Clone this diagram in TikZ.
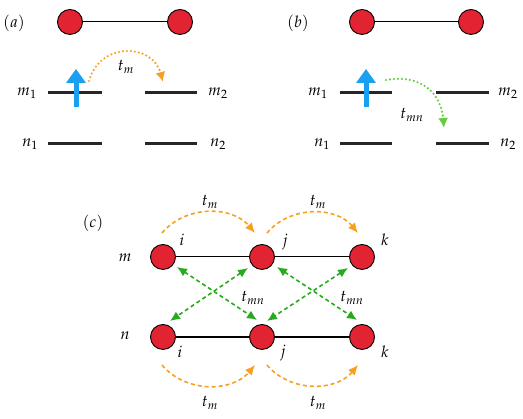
\documentclass[tikz,border=0pt]{standalone}
\usepackage{mathpazo}
\usetikzlibrary{arrows.meta}
\definecolor{sitered}{RGB}{226,35,50}
\definecolor{hoporange}{RGB}{248,160,30}
\definecolor{hopgreen}{RGB}{40,170,30}
\definecolor{hoplime}{RGB}{100,205,60}
\definecolor{spinblue}{RGB}{25,160,240}
\begin{document}
\begin{tikzpicture}[x=1pt, y=1pt,
  every node/.style={font=\fontsize{16}{19}\selectfont},
  site/.style={circle, draw=black, line width=0.9pt, fill=sitered, minimum size=25pt, inner sep=0pt},
  bond/.style={line width=1pt},
  level/.style={line width=3pt, black!85},
  spin/.style={spinblue, line width=5pt, -{Triangle[width=19pt,length=14pt]}},
  dothop/.style={line width=2.4pt, line cap=round, dash pattern=on 0pt off 4pt, -{Latex[length=10pt,width=10pt]}},
  dashhop/.style={line width=1.6pt, dash pattern=on 4pt off 3pt, -{Latex[length=10pt,width=9pt]}},
  dashboth/.style={dashhop, {Latex[length=10pt,width=9pt]}-{Latex[length=10pt,width=9pt]}}]
\useasboundingbox (0,0) rectangle (523,419);
% (a)
\node (la) at (14,396) {$(a)$};
\node[site] (a1) at (70,397) {};
\node[site] (a2) at (180,397) {};
\draw[bond] (a1) -- (a2);
\draw[level] (48,326) -- (102,326);
\draw[level] (145,326) -- (197,326);
\draw[level] (48,275) -- (102,275);
\draw[level] (145,275) -- (197,275);
\node at (27,326) {$m_1$};
\node at (218,326) {$m_2$};
\node at (30,275) {$n_1$};
\node at (218,275) {$n_2$};
\draw[spin] (76,312) -- (76,350);
\draw[dothop, hoporange] (89,338) to[out=75, in=105, looseness=1.4] (163,337);
\node at (126,352) {$t_m$};
% (b)
\node (lb) at (298,396) {$(b)$};
\node[site] (b1) at (362,397) {};
\node[site] (b2) at (471,397) {};
\draw[bond] (b1) -- (b2);
\draw[level] (340,326) -- (392,326);
\draw[level] (436,326) -- (489,326);
\draw[level] (340,275) -- (392,275);
\draw[level] (436,275) -- (489,275);
\node at (318,326) {$m_1$};
\node at (508,326) {$m_2$};
\node at (322,275) {$n_1$};
\node at (508,275) {$n_2$};
\draw[spin] (366,312) -- (366,350);
\draw[dothop, hoplime] (386,339) to[out=10, in=95, looseness=1.2] (444,291);
\node at (412,304) {$t_{mn}$};
% (c)
\node (lc) at (93,196) {$(c)$};
\node[site] (mi) at (163,162) {};
\node[site] (mj) at (262,162) {};
\node[site] (mk) at (362,162) {};
\node[site] (ni) at (163,82) {};
\node[site] (nj) at (262,82) {};
\node[site] (nk) at (362,82) {};
\draw[bond] (mi) -- (mj) -- (mk);
\draw[bond, line width=1.3pt] (ni) -- (nj) -- (nk);
\node at (125,161) {$m$};
\node at (125,83) {$n$};
\node at (182,179) {$i$};
\node at (285,177) {$j$};
\node at (385,179) {$k$};
\node at (180,67) {$i$};
\node at (283,66) {$j$};
\node at (385,67) {$k$};
% hopping within a chain
\draw[dashhop, hoporange] ([shift={(-1,24)}]mi.center) to[bend left=50] ([shift={(-7,24)}]mj.center);
\draw[dashhop, hoporange] ([shift={(5,24)}]mj.center) to[bend left=50] ([shift={(-4,24)}]mk.center);
\draw[dashhop, hoporange] ([shift={(-1,-28)}]ni.center) to[bend right=50] ([shift={(-7,-28)}]nj.center);
\draw[dashhop, hoporange] ([shift={(5,-28)}]nj.center) to[bend right=50] ([shift={(-4,-28)}]nk.center);
\node at (210,217) {$t_m$};
\node at (318,217) {$t_m$};
\node at (210,16) {$t_m$};
\node at (318,16) {$t_m$};
% hopping between chains
\draw[dashboth, hopgreen] ([shift={(14,-10)}]mi.center) -- ([shift={(-5,17)}]nj.center);
\draw[dashboth, hopgreen] ([shift={(-14,-11)}]mj.center) -- ([shift={(7,16)}]ni.center);
\draw[dashboth, hopgreen] ([shift={(15,-10)}]mj.center) -- ([shift={(-5,17)}]nk.center);
\draw[dashboth, hopgreen] ([shift={(-14,-11)}]mk.center) -- ([shift={(5,16)}]nj.center);
\node at (253,121) {$t_{mn}$};
\node at (352,121) {$t_{mn}$};
\end{tikzpicture}
\end{document}
